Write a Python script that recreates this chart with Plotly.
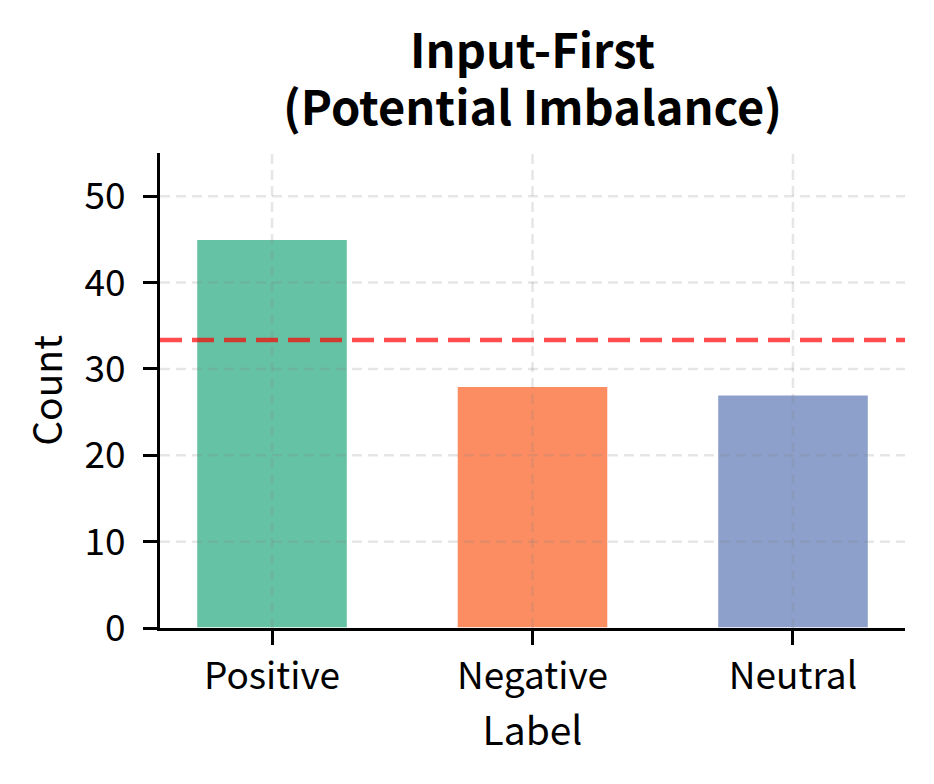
import numpy as np
import plotly.graph_objects as go

# Datos del gráfico
etiquetas = ["Positive", "Negative", "Neutral"]
conteos = [45, 28, 27]
colores = ["#66c2a5", "#fc8d62", "#8da0cb"]
ticks_y = [0, 10, 20, 30, 40, 50]
titulo = ["Input-First", "(Potential Imbalance)"]

media = float(np.mean(conteos))
pos_x = list(range(len(etiquetas)))

fuente = "Noto Sans CJK JP"

fig = go.Figure()
fig.add_trace(go.Bar(
    x=pos_x, y=conteos, width=0.58,
    marker=dict(color=colores, line=dict(color="white", width=1.5)),
    showlegend=False,
))

# Rejilla punteada encima de las barras (como en matplotlib)
rejilla = dict(color="rgba(128,128,128,0.2)", width=2.5, dash="10px,6px")
for v in ticks_y[1:]:
    fig.add_shape(type="line", xref="paper", yref="y", x0=0, x1=1, y0=v, y1=v,
                  line=rejilla, layer="above")
for p in pos_x:
    fig.add_shape(type="line", xref="x", yref="paper", x0=p, x1=p, y0=0, y1=1,
                  line=rejilla, layer="above")

# Línea de la media
fig.add_shape(type="line", xref="paper", yref="y", x0=0, x1=1, y0=media, y1=media,
              line=dict(color="rgba(255,0,0,0.7)", width=4.5, dash="22px,10px"), layer="above")

# Título en dos líneas sobre el área del gráfico
for linea, desplaz in zip(titulo, [106, 49]):
    fig.add_annotation(
        text=f"<b>{linea}</b>",
        xref="paper", yref="paper", x=0.5, y=1, xanchor="center", yanchor="middle",
        yshift=desplaz, showarrow=False, font=dict(size=47, family=fuente, color="black"),
    )

fig.update_layout(
    width=934, height=784,
    margin=dict(l=152, r=37, t=145, b=164),
    plot_bgcolor="white", paper_bgcolor="white",
    font=dict(family=fuente, color="black"),
)
fig.update_xaxes(
    range=[-0.43, 2.43], tickvals=pos_x, ticktext=etiquetas,
    showline=True, linecolor="black", linewidth=3,
    ticks="outside", ticklen=14, tickwidth=3, tickcolor="black",
    showgrid=False, zeroline=False, ticklabelstandoff=0,
    tickfont=dict(size=37),
    title=dict(text="Label", font=dict(size=39), standoff=10),
)
fig.update_yaxes(
    range=[0, 55], tickvals=ticks_y,
    showline=True, linecolor="black", linewidth=3,
    ticks="outside", ticklen=14, tickwidth=3, tickcolor="black",
    showgrid=False, zeroline=False, ticklabelstandoff=10,
    tickfont=dict(size=37),
    title=dict(text="Count", font=dict(size=39), standoff=10),
)

fig.write_html("out.html")
